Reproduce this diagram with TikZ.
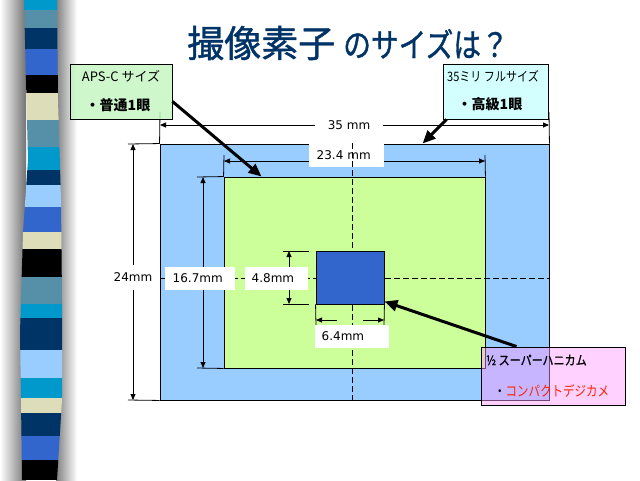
\documentclass[tikz,border=0pt]{standalone}
\usepackage{fontspec}
\newfontfamily\jp{Noto Sans CJK JP}
\newfontfamily\jpmed[FakeBold=1.2]{Noto Sans CJK JP}
\newfontfamily\dv{DejaVu Sans}
\usetikzlibrary{arrows.meta}
\definecolor{navy}{HTML}{003366}
\definecolor{sblue}{HTML}{3366CC}
\definecolor{steel}{HTML}{558FA8}
\definecolor{cyanb}{HTML}{0099CC}
\definecolor{beige}{HTML}{DDDDB9}
\definecolor{lblue}{HTML}{99CCFF}
\definecolor{lgreen}{HTML}{CCFF99}
\definecolor{boxgreen}{HTML}{C4F5C0}
\definecolor{boxcyan}{HTML}{CCFFFF}
\definecolor{boxpink}{HTML}{FF99FF}
\definecolor{redtxt}{HTML}{FF2200}
\begin{document}
\begin{tikzpicture}[x=1pt,y=-1pt,
  sensor/.style={draw=black, line width=0.9pt, inner sep=0pt, rectangle},
  extline/.style={line width=0.8pt},
  dimarr/.style={line width=0.8pt, {Triangle[length=6pt,width=5pt]}-{Triangle[length=6pt,width=5pt]}},
  onearr/.style={line width=0.8pt, -{Triangle[length=6pt,width=5pt]}},
  dimlab/.style={fill=white, inner ysep=0pt, minimum height=23pt, anchor=west, align=left, font=\dv\fontsize{12}{14}\selectfont},
  crossline/.style={line width=0.9pt, dash pattern=on 6pt off 3pt},
  callbox/.style={draw=black, line width=0.9pt, inner sep=0pt, rectangle},
  callarrow/.style={line width=3pt, -{Triangle[length=13pt,width=11pt]}},
  calltxt/.style={inner sep=0pt, font=\jp\fontsize{13}{15}\selectfont},
  callbold/.style={inner sep=0pt, font=\jp\bfseries\fontsize{14}{16}\selectfont}
]
\path[use as bounding box, fill=white] (0,0) rectangle (640,480);

% left decorative band
\shade[left color=white, right color=black!55] (0,0) rectangle (26,480);
\shade[left color=black!50, right color=white] (56,0) rectangle (77,480);
\begin{scope}
\clip (24,0) -- (28,160) -- (23,233) -- (20,333) -- (21,400) -- (22,480) -- (57,480) -- (62,400) -- (62,300) -- (61,200) -- (58,100) -- (57,0) -- cycle;
\foreach \a/\b/\c in {0/10/cyanb,10/28/steel,28/49/navy,49/75/sblue,75/93/black,93/120/beige,120/147/steel,147/170/cyanb,170/185/navy,185/207/lblue,207/232/sblue,232/249/beige,249/277/black,277/304/steel,304/318/cyanb,318/350/navy,350/378/lblue,378/398/cyanb,398/413/beige,413/436/navy,436/460/sblue,460/480/black}
  \fill[\c] (10,\a) rectangle (75,\b);
\end{scope}

% title
\node[inner sep=0pt, text=navy, font=\jpmed] (title) at (348,43)
  {\fontsize{37}{40}\selectfont 撮像素子\hspace{8pt}\scalebox{0.84}[1]{\fontsize{33}{36}\selectfont のサイズは？}};

% sensors
\node[sensor, fill=lblue, minimum width=389pt, minimum height=256pt] (outer) at (354.5,272) {};
\node[sensor, fill=lgreen, minimum width=261pt, minimum height=191pt] (green) at (354.5,272.5) {};

% extension lines
\draw[extline] (160,112) -- (outer.north west);
\draw[extline] (549,112) -- (outer.north east);
\draw[extline] (224,155) -- (green.north west);
\draw[extline] (485,155) -- (green.north east);
\draw[extline] (128,144) -- (outer.north west);
\draw[extline] (128,400) -- (outer.south west);
\draw[extline] (197,177) -- (green.north west);
\draw[extline] (197,368) -- (green.south west);

% dimension lines
\coordinate (d35l) at (160,125); \coordinate (d35r) at (549,125);
\coordinate (d234l) at (224,161); \coordinate (d234r) at (485,161);
\coordinate (d24t) at (133,144); \coordinate (d24b) at (133,400);
\coordinate (d167t) at (203,177); \coordinate (d167b) at (203,368);
\coordinate (d48t) at (289,251); \coordinate (d48b) at (289,304);
\draw[dimarr] (d35l) -- (d35r);
\draw[dimarr] (d234l) -- (d234r);
\draw[dimarr] (d24t) -- (d24b);
\draw[dimarr] (d167t) -- (d167b);
\draw[dimarr] (d48t) -- (d48b);

\node[dimlab, anchor=center, minimum width=68pt] (l35) at (349,125) {35 mm};
\node[dimlab, inner xsep=7.5pt, text width=60pt, minimum height=24pt] (l234) at (309,155) {23.4 mm};

% crosshair
\draw[crossline] (352,143) -- (352,400);
\draw[crossline] (160,278) -- (549,278);

% small sensor
\node[sensor, fill=sblue, minimum width=68pt, minimum height=53pt] (small) at (350,277.5) {};
\draw[extline] (283,251) -- (309,251);
\draw[extline] (283,304) -- (309,304);
\draw[extline] (small.south west) -- (316,325);
\draw[extline] (small.south east) -- (384,325);
\coordinate (d64l) at (316,320); \coordinate (d64r) at (384,320);
\coordinate (d64lm) at (337,320); \coordinate (d64rm) at (363,320);
\draw[onearr] (d64lm) -- (d64l);
\draw[onearr] (d64rm) -- (d64r);

\node[dimlab, anchor=center, minimum width=44pt, inner xsep=1pt, minimum height=25pt] (l24) at (133,277) {24mm};
\node[dimlab, inner xsep=7.5pt, text width=55pt] (l167) at (165,278.5) {16.7mm};
\node[dimlab, inner xsep=6.5pt, text width=50pt] (l48) at (245,278.5) {4.8mm};
\node[dimlab, inner xsep=6.5pt, text width=61pt] (l64) at (315,336.5) {6.4mm};

% callouts
\node[callbox, fill=boxgreen, fill opacity=0.8, minimum width=102pt, minimum height=55pt] (aps) at (121,91.5) {};
\node[calltxt] (apst1) at (121,76) {APS-C サイズ};
\node[callbold] (apst2) at (118,105) {・普通1眼};
\draw[callarrow] ([yshift=-10pt]aps.east) -- ([xshift=38pt]green.north west);

\node[callbox, fill=boxcyan, fill opacity=0.85, minimum width=105pt, minimum height=55pt] (full) at (495.5,91.5) {};
\node[calltxt] (fullt1) at (493,76) {\scalebox{0.85}[1]{35ミリ フルサイズ}};
\node[callbold] (fullt2) at (490,104) {・高級1眼};
\draw[callarrow] ([xshift=4pt]full.south west) -- ([xshift=263pt]outer.north west);

\node[callbox, fill=boxpink, fill opacity=0.45, minimum width=144pt, minimum height=58pt] (pink) at (553,376) {};
\node[calltxt, anchor=west, font=\jpmed\fontsize{13}{15}\selectfont] (pinkt1) at (486,360) {\scalebox{0.85}[1]{½ スーパーハニカム}};
\node[calltxt, anchor=west, font=\jp\fontsize{14}{16}\selectfont] (pinkt2) at (494,391) {\scalebox{0.82}[1]{・\textcolor{redtxt}{コンパクトデジカメ}}};
\draw[callarrow] ([xshift=36pt]pink.north west) -- ([yshift=3pt]small.south east);
\end{tikzpicture}
\end{document}
